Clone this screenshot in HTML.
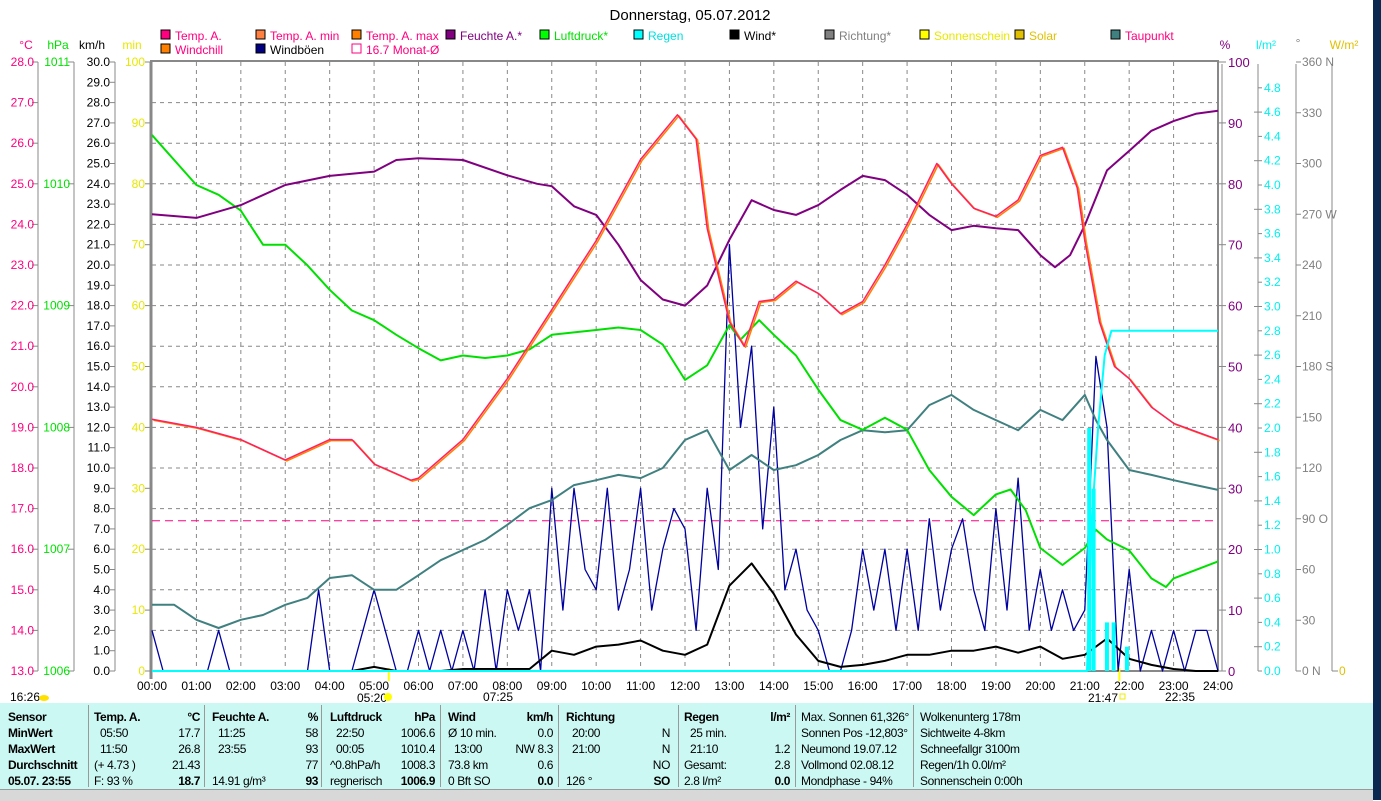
<!DOCTYPE html>
<html><head><meta charset="utf-8"><style>
body{margin:0;width:1381px;height:800px;overflow:hidden;background:#fff;font-family:"Liberation Sans",sans-serif;position:relative}
svg{position:absolute;left:0;top:0}
.tb{position:absolute;top:703px;left:0;width:1373px;height:86px;background:#ccf8f4}
.c{position:absolute;font-size:12px;color:#000;white-space:nowrap;letter-spacing:-0.4px}
.b{font-weight:bold}
.sep{position:absolute;top:705px;width:1px;height:82px;background:#999}
</style></head><body>
<div class="tb"></div>
<div style="position:absolute;left:1373px;top:0;width:8px;height:800px;background:#0a2850"></div>
<div style="position:absolute;left:0;top:789px;width:1373px;height:11px;background:#d8d8d8;border-top:1px solid #999"></div>
<div id="tbl"></div>
<svg id="s" width="1381" height="800" xmlns="http://www.w3.org/2000/svg" font-family="Liberation Sans, sans-serif"></svg>
<script>
// ---- data ----
const tempT=[0,1,2,3,4,4.5,5,5.83,6,7,8,9,10,11,11.83,12.25,12.5,13,13.33,13.67,14,14.5,15,15.5,16,16.5,17,17.67,18,18.5,19,19.5,20,20.5,20.83,21,21.33,21.67,22,22.5,23,23.5,24];
const tempV=[19.2,19.0,18.7,18.2,18.7,18.7,18.1,17.7,17.75,18.7,20.2,21.9,23.6,25.6,26.7,26.1,23.9,21.6,21.0,22.1,22.15,22.6,22.3,21.8,22.1,23.0,24.0,25.5,25.0,24.4,24.2,24.6,25.7,25.9,24.9,23.6,21.6,20.5,20.2,19.5,19.1,18.9,18.7];
const humT=[0,1,2,3,4,5,5.5,6,7,8,8.67,9,9.5,10,10.5,11,11.5,12,12.5,13,13.5,14,14.5,15,15.5,16,16.5,17,17.5,18,18.5,19,19.5,20,20.33,20.67,21,21.5,22,22.5,23,23.5,24];
const humV=[75,74.4,76.5,79.8,81.3,82,83.9,84.2,83.9,81.4,80,79.6,76.3,74.9,70,64.2,61,60,63.3,70.8,77.3,75.7,74.9,76.5,79,81.3,80.6,78.2,74.9,72.4,73.1,72.7,72.4,68.3,66.3,68.3,73.2,82.2,85.4,88.7,90.3,91.5,92];
const presT=[0,1,1.5,2,2.5,3,3.5,4,4.5,5,5.5,6,6.5,7,7.5,8,8.5,9,9.5,10,10.5,11,11.5,12,12.5,13,13.25,13.67,14,14.5,15,15.5,16,16.5,17,17.5,18,18.5,19,19.33,19.67,20,20.5,21,21.25,21.5,22,22.5,22.83,23,23.5,24];
const presV=[1010.40,1009.99,1009.91,1009.78,1009.50,1009.50,1009.33,1009.13,1008.96,1008.88,1008.76,1008.65,1008.55,1008.59,1008.57,1008.59,1008.64,1008.76,1008.78,1008.80,1008.82,1008.80,1008.68,1008.39,1008.51,1008.84,1008.72,1008.88,1008.76,1008.59,1008.31,1008.06,1007.98,1008.08,1007.98,1007.65,1007.43,1007.28,1007.45,1007.49,1007.32,1007.01,1006.87,1007.01,1007.16,1007.08,1006.99,1006.76,1006.69,1006.76,1006.83,1006.90];
const dewT=[0,0.5,1,1.5,2,2.5,3,3.5,4,4.5,5,5.5,6,6.5,7,7.5,8,8.5,9,9.5,10,10.5,11,11.5,12,12.5,13,13.5,14,14.5,15,15.5,16,16.5,17,17.5,18,18.5,19,19.5,20,20.5,21,21.25,21.5,22,22.5,23,23.5,24];
const dewV=[14.63,14.63,14.26,14.06,14.26,14.38,14.63,14.80,15.29,15.36,15.0,15.0,15.36,15.73,15.98,16.23,16.6,17.01,17.21,17.58,17.7,17.83,17.75,18.0,18.69,18.93,17.95,18.32,17.95,18.07,18.32,18.69,18.93,18.88,18.93,19.55,19.8,19.43,19.18,18.93,19.43,19.18,19.8,19.18,18.69,17.95,17.83,17.7,17.58,17.46];
const gustV=[2,0,0,0, 0,0,2,0, 0,0,0,0, 0,0,0,4, 0,0,0,2, 4,2,0,0, 2,0,2,0, 2,0,4,0, 4,2,4,0, 9,3,9,5, 4,9,3,5, 9,3,6,8, 7,2,9,5, 21,12,16,7, 13,4,6,3, 2,0,0,2, 6,3,6,2, 6,2,7.5,3, 6,7.5,4,2, 8,3,9.5,2, 5,2,4,2, 3,15.5,12,0, 5,0,2,0, 2,0,2,2, 0];
const windV=[0,0,0,0,0,0,0,0,0,0,0.2,0,0,0,0.1,0.1,0.1,0.1,1.0,0.8,1.2,1.3,1.5,1.0,0.8,1.3,4.2,5.3,3.8,1.8,0.5,0.2,0.3,0.5,0.8,0.8,1.0,1.0,1.2,0.9,1.2,0.6,0.8,1.6,0.6,0.3,0.1,0,0];
const rainT=[0,21.05,21.15,21.3,21.45,21.6,24];
const rainV=[0,0,1.2,2.0,2.6,2.8,2.8];
const rainBarT=[21.1,21.2,21.5,21.65,21.95];
const rainBarV=[2.0,1.5,0.4,0.4,0.2];
const monthAvg=16.7;
const hourLabels=["00:00","01:00","02:00","03:00","04:00","05:00","06:00","07:00","08:00","09:00","10:00","11:00","12:00","13:00","14:00","15:00","16:00","17:00","18:00","19:00","20:00","21:00","22:00","23:00","24:00"];

// ---- scales ----
const X0=152,X1=1218,Y0=62,Y1=671;
const xs=h=>X0+(X1-X0)*h/24;
const yT=v=>Y0+(28-v)*(Y1-Y0)/15;
const yW=v=>Y1-v*(Y1-Y0)/30;
const yH=v=>Y1-v*(Y1-Y0)/100;
const yP=v=>Y0+(1011-v)*(Y1-Y0)/5;
const yR=v=>Y1-v*121.5;
const s=document.getElementById('s');
const NS='http://www.w3.org/2000/svg';
function el(tag,at,txt){const e=document.createElementNS(NS,tag);for(const k in at)e.setAttribute(k,at[k]);if(txt!==undefined)e.textContent=txt;s.appendChild(e);return e;}
function txt(x,y,t,fill,anchor,size,name){const e=el('text',{x:x,y:y,fill:fill,'text-anchor':anchor||'start','font-size':size||12},t);

return e;}

// grid
for(let h=1;h<24;h++){const g=el('line',{x1:xs(h),x2:xs(h),y1:Y0,y2:Y1,stroke:'#888','stroke-dasharray':'4,4'});

}
for(let v=14;v<28;v++){const g=el('line',{x1:X0,x2:X1,y1:yT(v),y2:yT(v),stroke:'#888','stroke-dasharray':'4,4'});

}
// border
let b=el('rect',{x:X0-1,y:Y0-1,width:X1-X0+1,height:Y1-Y0+1,fill:'none',stroke:'#888','stroke-width':2});


el('line',{x1:X0-1,x2:X0-1,y1:Y0,y2:Y1+8,stroke:'#888','stroke-width':3});

// left axes
[38,74,115].forEach(x=>el('line',{x1:x,x2:x,y1:Y0,y2:Y1,stroke:'#888'}));
for(let v=13;v<=28;v++){const y=yT(v);el('line',{x1:32,x2:38,y1:y,y2:y,stroke:'#888'});txt(34,y+4,v.toFixed(1),'#ff0080','end',12,'celsius-tick');}
for(let v=1006;v<=1011;v++){const y=yP(v);el('line',{x1:68,x2:74,y1:y,y2:y,stroke:'#888'});txt(70,y+4,v,'#00e000','end',12,'hpa-tick');}
for(let v=0;v<=30;v++){const y=yW(v);el('line',{x1:110,x2:115,y1:y,y2:y,stroke:'#888'});txt(110,y+4,v.toFixed(1),'#000','end',12,'kmh-tick');}
for(let v=0;v<=100;v+=10){const y=yH(v);el('line',{x1:145,x2:150,y1:y,y2:y,stroke:'#888'});txt(145,y+4,v,'#e8e800','end',12,'min-tick');}
txt(26,49,'°C','#ff0080','middle',12,'unit-celsius');txt(58,49,'hPa','#00e000','middle',12,'unit-hpa');txt(92,49,'km/h','#000','middle',12,'unit-kmh');txt(132,49,'min','#e8e800','middle',12,'unit-min');
// right axes
[1222,1258,1296,1332].forEach(x=>el('line',{x1:x,x2:x,y1:Y0+2,y2:Y1,stroke:'#888'}));
for(let v=0;v<=100;v+=10){const y=yH(v);el('line',{x1:1218,x2:1226,y1:y,y2:y,stroke:'#888'});txt(1228,y+5,v,'#800080','start',13,'percent-tick');}
for(let i=0;i<=24;i++){const v=i*0.2,y=yR(v);el('line',{x1:i%2?1254:1258,x2:1262,y1:y,y2:y,stroke:'#888'});txt(1264,y+4,v.toFixed(1),'#00f0f0','start',12,'rain-tick');}
const dirs={0:' N',90:' O',180:' S',270:' W',360:' N'};
for(let v=0;v<=360;v+=30){const y=Y1-v*(Y1-Y0)/360;el('line',{x1:1296,x2:1301,y1:y,y2:y,stroke:'#888'});txt(1302,y+4,v+(dirs[v]||''),'#808080','start',12,'direction-tick');}
el('line',{x1:1332,x2:1338,y1:Y1,y2:Y1,stroke:'#888'});txt(1339,Y1+4,'0','#e0c000','start',12,'solar-tick');
txt(1225,49,'%','#800080','middle',12,'unit-percent');txt(1266,49,'l/m²','#00f0f0','middle',12,'unit-rain');txt(1298,47,'°','#808080','middle',12,'unit-degree');txt(1344,49,'W/m²','#e0c000','middle',12,'unit-solar');

// x labels
hourLabels.forEach((l,i)=>txt(xs(i),690,l,'#000','middle',12,'x-tick'));
txt(10,701,'16:26','#000','start',12,'update-time');el('ellipse',{cx:44,cy:698,rx:5,ry:3,fill:'#ffe000'});
txt(357,702,'05:20','#000','start',12,'sunrise-time');el('circle',{cx:388,cy:697,r:4,fill:'#ffff00'});
txt(483,701,'07:25','#000','start',12,'moonrise-time');
txt(1088,702,'21:47','#000','start',12,'sunset-time');el('rect',{x:1120,y:694,width:5,height:5,fill:'none',stroke:'#ee0'});
txt(1165,701,'22:35','#000','start',12,'moonset-time');
el('line',{x1:xs(5.33),x2:xs(5.33),y1:668,y2:681,stroke:'#ffff00','stroke-width':2});
el('line',{x1:xs(21.78),x2:xs(21.78),y1:668,y2:681,stroke:'#ffff00','stroke-width':2});

// title
txt(690,20,'Donnerstag, 05.07.2012','#000','middle',15,'chart-title');

// legend
const leg=[[161,38,'#ff0080','Temp. A.','#ff0080'],[256,38,'#ff8040','Temp. A. min','#ff0080'],[352,38,'#ff8000','Temp. A. max','#ff0080'],[446,38,'#800080','Feuchte A.*','#800080'],[540,38,'#00ff00','Luftdruck*','#00e000'],[634,38,'#00ffff','Regen','#00e0e0'],[730,38,'#000','Wind*','#000'],[825,38,'#808080','Richtung*','#808080'],[920,38,'#ffff00','Sonnenschein','#e8e800'],[1015,38,'#e0c000','Solar','#e0c000'],[1111,38,'#408080','Taupunkt','#ff0080'],[161,52,'#ff8000','Windchill','#ff0080'],[256,52,'#000080','Windböen','#000'],[352,52,'#fff','16.7 Monat-Ø','#ff0080']];
leg.forEach(l=>{const r=el('rect',{x:l[0],y:l[1]-8,width:9,height:9,fill:l[2],stroke:l[2]=='#fff'?'#ff0080':'#000'});


txt(l[0]+14,l[1]+2,l[3],l[4],'start',12,'legend-entry');});

function path(T,V,xf,yf,color,w,name){let d='';T.forEach((t,i)=>{d+=(i?'L':'M')+xf(t).toFixed(1)+','+yf(V[i]).toFixed(1);});
const p=el('path',{d:d,fill:'none',stroke:color,'stroke-width':w,'stroke-linejoin':'round'});

return p;}

// month avg
const ma=el('line',{x1:X0,x2:X1,y1:yT(monthAvg),y2:yT(monthAvg),stroke:'#ff0080','stroke-dasharray':'8,5'});


path(gustV.map((_,i)=>i/4),gustV,xs,yW,'#0000a0',1.3,'gust-line');
path(windV.map((_,i)=>i/2),windV,xs,yW,'#000',2,'wind-line');
path(dewT,dewV,xs,yT,'#408080',2,'dewpoint-line');
path(presT,presV,xs,yP,'#00e000',2,'pressure-line');
path(humT,humV,xs,yH,'#800080',2,'humidity-line');
path(tempT,tempV,h=>xs(h)+1.5,v=>yT(v)+1,'#ff8000',1.5,'temp-max-line');
path(tempT,tempV,xs,yT,'#ff2060',1.5,'temperature-line');
rainBarT.forEach((t,i)=>{const r=el('rect',{x:xs(t)-2,y:yR(rainBarV[i]),width:4,height:Y1-yR(rainBarV[i]),fill:'#00ffff'});

});
path(rainT,rainV,xs,yR,'#00ffff',2,'rain-cumulative-line');

// table
const T=document.getElementById('tbl');
function c(x,y,t,bold,right,name){const d=document.createElement('div');d.className='c'+(bold?' b':'');d.style.top=(y-12)+'px';if(right){d.style.right=(1381-x)+'px';}else d.style.left=x+'px';d.textContent=t;

T.appendChild(d);}
[88,204,321,440,558,678,795,913].forEach(x=>{const d=document.createElement('div');d.className='sep';d.style.left=x+'px';T.appendChild(d);});
const R=[722,738,754,770,786];
[['Sensor',1],['MinWert',1],['MaxWert',1],['Durchschnitt',1],['05.07. 23:55',1]].forEach((v,i)=>c(8,R[i],v[0],1));
const cols=[
[94,200,[['Temp. A.','°C',1],['05:50','17.7'],['11:50','26.8'],['(+ 4.73 )','21.43'],['F: 93 %','18.7',2]]],
[212,318,[['Feuchte A.','%',1],['11:25','58'],['23:55','93'],['','77'],['14.91 g/m³','93',2]]],
[330,435,[['Luftdruck','hPa',1],['22:50','1006.6'],['00:05','1010.4'],['^0.8hPa/h','1008.3'],['regnerisch','1006.9',2]]],
[448,553,[['Wind','km/h',1],['Ø 10 min.','0.0'],['13:00','NW 8.3'],['73.8 km','0.6'],['0 Bft SO','0.0',2]]],
[566,670,[['Richtung','',1],['20:00','N'],['21:00','N'],['','NO'],['126 °','SO',2]]],
[684,790,[['Regen','l/m²',1],['25 min.',''],['21:10','1.2'],['Gesamt:','2.8'],['2.8 l/m²','0.0',2]]]];
cols.forEach(col=>col[2].forEach((r,i)=>{c(col[0]+(i>0&&i<3&&r[0].match(/^\d/)?6:0),R[i],r[0],r[2]==1);c(col[1],R[i],r[1],r[2]>=1,true);}));
['Max. Sonnen 61,326°','Sonnen Pos -12,803°','Neumond   19.07.12','Vollmond   02.08.12','Mondphase      - 94%'].forEach((v,i)=>c(801,R[i],v));
['Wolkenunterg  178m','Sichtweite      4-8km','Schneefallgr  3100m','Regen/1h      0.0l/m²','Sonnenschein  0:00h'].forEach((v,i)=>c(920,R[i],v));
</script>
</body></html>
